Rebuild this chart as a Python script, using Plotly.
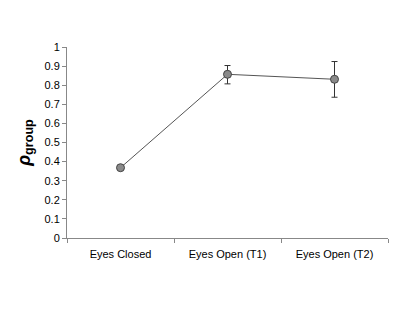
import plotly.graph_objects as go

categories = ["Eyes Closed", "Eyes Open (T1)", "Eyes Open (T2)"]
values = [0.368, 0.857, 0.831]
err_plus = [0.008, 0.046, 0.093]
err_minus = [0.008, 0.05, 0.094]
y_ticks = [0, 0.1, 0.2, 0.3, 0.4, 0.5, 0.6, 0.7, 0.8, 0.9, 1]
y_tick_text = ["0", "0.1", "0.2", "0.3", "0.4", "0.5", "0.6", "0.7", "0.8", "0.9", "1"]

fig = go.Figure()
fig.add_trace(go.Scatter(
    x=categories, y=values, mode="lines+markers",
    line=dict(color="#555555", width=1),
    marker=dict(size=8, color="#8a8a8a", line=dict(color="#444444", width=1)),
    error_y=dict(type="data", array=err_plus, arrayminus=err_minus,
                 color="#333333", thickness=1, width=3),
    showlegend=False,
))

fig.update_layout(
    width=415, height=312,
    margin=dict(l=59, r=35, t=39, b=82),
    paper_bgcolor="white", plot_bgcolor="white",
    font=dict(family="Liberation Sans, Arial, sans-serif", size=11, color="black"),
)
fig.update_xaxes(
    type="category", range=[-0.5, 2.5], showgrid=False, zeroline=False,
    showline=True, linecolor="#888888", linewidth=1,
    ticks="outside", tickson="boundaries", ticklen=4, tickcolor="#888888",
    tickfont=dict(size=11), ticklabelstandoff=6,
)
fig.update_yaxes(
    range=[0, 1], tickvals=y_ticks, ticktext=y_tick_text,
    showgrid=False, zeroline=False,
    showline=True, linecolor="#888888", linewidth=1,
    ticks="outside", ticklen=4, tickcolor="#888888",
    tickfont=dict(size=11),
    title=dict(text="<b><i>ρ</i></b><sub><b>group</b></sub>", font=dict(size=18), standoff=9),
)

fig.write_html("out.html")
